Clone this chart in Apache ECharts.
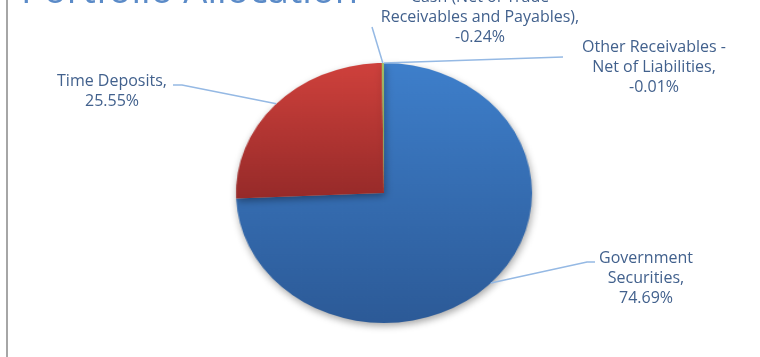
<!DOCTYPE html>
<html>
<head>
<meta charset="utf-8">
<script src="https://cdn.jsdelivr.net/npm/echarts@6/dist/echarts.min.js"></script>
<style>
    html, body { margin: 0; padding: 0; background: #fff; overflow: hidden; }
    .layer { position: absolute; left: 0; top: 0; width: 760px; height: 357px; }
    /* Excel drew an oval pie: stretch the slice layer sideways around the centre */
    #slices { transform: scaleX(1.1385); transform-origin: 384px 0; }
</style>
</head>
<body>
<div id="slices" class="layer"></div>
<div id="labels" class="layer"></div>
<script>
    // data
    var categories = ['Government\nSecurities', 'Time Deposits', 'Cash (Net of Trade\nReceivables and Payables)', 'Other Receivables -\nNet of Liabilities'];
    var percents = [74.69, 25.55, -0.24, -0.01];

    var titleText = 'Portfolio Allocation';
    var stretch = 1.1385;
    var centre = [384, 193];
    var radius = 130;

    var palette = [
        ['#3E7FCB', '#2C5A97'],
        ['#CF413C', '#962A29'],
        ['#A2C25E', '#7E9C3C'],
        ['#8A6DAE', '#654C85']
    ];

    // where Excel put each label block and the bend of its leader
    var labelSpots = [
        {x: 646, y: 278, bend: [587, 262], end: [595, 262]},
        {x: 112, y: 91, bend: [182, 85], end: [173, 85]},
        {x: 480, y: 17, bend: [372, 27], end: [372, 27]},
        {x: 654, y: 67, bend: [563, 57], end: [563, 57]}
    ];

    function pieData(withColour) {
        var out = [];
        for (var i = 0; i < categories.length; i++) {
            var item = {name: categories[i], value: Math.abs(percents[i]), pct: percents[i]};
            if (withColour) {
                item.itemStyle = {
                    color: {
                        type: 'linear', x: 0, y: 0, x2: 0, y2: 1,
                        colorStops: [{offset: 0, color: palette[i][0]}, {offset: 1, color: palette[i][1]}]
                    }
                };
            }
            out.push(item);
        }
        return out;
    }

    var slicesChart = echarts.init(document.getElementById('slices'), null, {renderer: 'canvas'});
    slicesChart.setOption({
        animation: false,
        series: [{
            type: 'pie',
            center: centre,
            radius: radius,
            startAngle: 90,
            clockwise: true,
            silent: true,
            label: {show: false},
            labelLine: {show: false},
            itemStyle: {
                borderWidth: 0,
                shadowBlur: 7,
                shadowOffsetY: 3,
                shadowOffsetX: 1,
                shadowColor: 'rgba(0,0,0,0.35)'
            },
            data: pieData(true)
        }]
    });

    var labelsChart = echarts.init(document.getElementById('labels'), null, {renderer: 'canvas'});
    labelsChart.setOption({
        animation: false,
        graphic: [
            {
                type: 'line',
                shape: {x1: 7, y1: 0, x2: 7, y2: 357},
                style: {stroke: '#A6A6A6', lineWidth: 2}
            },
            {
                type: 'text',
                x: 21,
                y: 11,
                style: {
                    text: titleText,
                    font: '38px "Open Sans"',
                    fill: '#5B8BC8',
                    verticalAlign: 'bottom'
                }
            }
        ],
        series: [{
            type: 'pie',
            center: centre,
            radius: radius,
            startAngle: 90,
            clockwise: true,
            silent: true,
            avoidLabelOverlap: false,
            itemStyle: {color: 'rgba(0,0,0,0)', borderWidth: 0},
            label: {
                show: true,
                position: 'outside',
                color: '#42618D',
                fontFamily: 'Open Sans',
                fontSize: 16,
                lineHeight: 20,
                align: 'center',
                formatter: function (p) {
                    return p.name + ',\n' + p.data.pct.toFixed(2) + '%';
                }
            },
            labelLine: {
                show: true,
                smooth: false,
                lineStyle: {color: '#95B9E4', width: 1.5}
            },
            labelLayout: function (params) {
                var spot = labelSpots[params.dataIndex];
                var start = params.labelLinePoints[0];
                var sx = centre[0] + (start[0] - centre[0]) * stretch;
                return {
                    x: spot.x,
                    y: spot.y,
                    align: 'center',
                    verticalAlign: 'middle',
                    hideOverlap: false,
                    labelLinePoints: [[sx, start[1]], spot.bend, spot.end]
                };
            },
            data: pieData(false)
        }]
    });
</script>
</body>
</html>
